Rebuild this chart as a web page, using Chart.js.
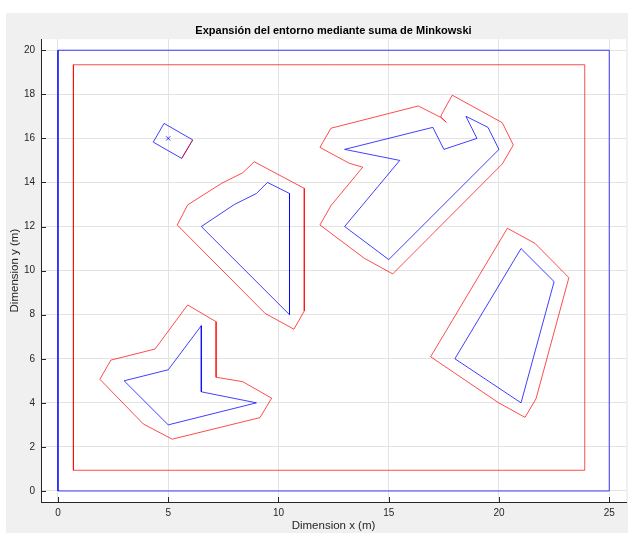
<!DOCTYPE html>
<html>
<head>
<meta charset="utf-8">
<script src="https://cdn.jsdelivr.net/npm/chart.js@4/dist/chart.umd.min.js"></script>
<style>
  html, body { margin: 0; padding: 0; background: #ffffff; }
  canvas { display: block; }
</style>
</head>
<body>
<canvas id="c" width="628" height="533"></canvas>
<script>
// Tick values
const xTicks = [0, 5, 10, 15, 20, 25];
const yTicks = [0, 2, 4, 6, 8, 10, 12, 14, 16, 18, 20];

// Workspace border and its configuration-space boundary
const borde = [[0, 0], [25, 0], [25, 20], [0, 20], [0, 0]];
const bordeExpandido = [[0.7, 0.94], [23.89, 0.94], [23.89, 19.34], [0.7, 19.34], [0.7, 0.94]];

// Robot footprint and its reference point
const robot = [[4.81, 16.68], [6.11, 15.93], [5.61, 15.09], [4.32, 15.83], [4.81, 16.68]];
const robotLado = [[6.11, 15.93], [5.61, 15.09]];
const robotRef = [[5, 16]];

// Obstacles (blue) and their Minkowski expansions (red)
const obs1 = [[3, 5], [5, 5.5], [6.5, 7.5], [6.5, 4.5], [9, 4], [5, 3], [3, 5]];
const obs1Exp = [[1.9, 5.07], [2.4, 5.94], [4.4, 6.44], [5.88, 8.44], [7.17, 7.68], [7.17, 5.16],
                 [8.38, 4.96], [9.69, 4.21], [9.16, 3.33], [5.18, 2.35], [3.87, 3.04], [1.9, 5.07]];

const obs2 = [[6.5, 12], [8, 13], [9, 13.5], [9.5, 14], [10.5, 13.5], [10.5, 8], [6.5, 12]];
const obs2Exp = [[5.41, 12.07], [5.88, 12.98], [7.42, 13.96], [8.38, 14.44], [8.9, 14.94],
                 [11.17, 13.73], [11.17, 8.17], [10.7, 7.34], [9.39, 8.06], [5.41, 12.07]];

const obs3 = [[13, 15.5], [17, 16.5], [17.5, 15.5], [19, 16], [18.5, 17], [19.5, 16.5],
              [20, 15.5], [15, 10.5], [13, 12], [15.5, 15], [13, 15.5]];
const obs3Exp = [[12.38, 16.46], [16.34, 17.47], [17.36, 16.95], [17.61, 16.73], [17.36, 16.97],
                 [17.4, 17.09], [17.88, 17.96], [20.15, 16.71], [20.65, 15.7], [20.15, 14.84],
                 [15.18, 9.85], [13.89, 10.56], [11.88, 12.07], [12.38, 12.95], [13.82, 14.69],
                 [13.21, 14.87], [11.88, 15.59], [12.38, 16.46]];

const obs4 = [[21, 11], [22.5, 9.5], [21, 4], [18, 6], [21, 11]];
const obs4Exp = [[20.38, 11.92], [21.63, 11.24], [23.17, 9.68], [21.68, 4.19], [21.18, 3.34],
                 [19.97, 4.01], [16.9, 6.09], [20.38, 11.92]];

const AZUL = 'rgba(0,0,255,0.75)';
const ROJO = 'rgba(255,0,0,0.7)';
const FONT = 'Liberation Sans, Arial, Helvetica, sans-serif';
const TEXTO = '#262626';

const pts = arr => arr.map(([x, y]) => ({ x, y }));
const linea = (label, arr, color, order) => ({
  label, data: pts(arr), borderColor: color, backgroundColor: color,
  borderWidth: 1, showLine: true, pointRadius: 0, pointHoverRadius: 0,
  fill: false, tension: 0, order
});

const datasets = [
  linea('borde', borde, AZUL, 2),
  linea('obs1', obs1, AZUL, 2),
  linea('obs2', obs2, AZUL, 2),
  linea('obs3', obs3, AZUL, 2),
  linea('obs4', obs4, AZUL, 2),
  linea('robot', robot, AZUL, 2),
  linea('bordeExpandido', bordeExpandido, ROJO, 1),
  linea('obs1Exp', obs1Exp, ROJO, 1),
  linea('obs2Exp', obs2Exp, ROJO, 1),
  linea('obs3Exp', obs3Exp, ROJO, 1),
  linea('obs4Exp', obs4Exp, ROJO, 1),
  linea('robotLado', robotLado, ROJO, 1),
  {
    label: 'ref', data: pts(robotRef), showLine: false, pointStyle: 'crossRot',
    pointRadius: 3, pointHoverRadius: 3, borderColor: AZUL, borderWidth: 1, order: 0
  }
];

// Figure background: grey panel with white axes area
const fondo = {
  id: 'fondo',
  beforeDraw(chart) {
    const { ctx, chartArea: a } = chart;
    ctx.save();
    ctx.fillStyle = '#ffffff';
    ctx.fillRect(0, 0, chart.width, chart.height);
    ctx.fillStyle = '#f0f0f0';
    ctx.fillRect(6, 13, chart.width - 6, chart.height - 13);
    ctx.fillStyle = '#ffffff';
    ctx.fillRect(a.left, a.top, a.right - a.left, a.bottom - a.top);
    ctx.restore();
  }
};

// Inward tick marks on the left and bottom axes
const marcas = {
  id: 'marcas',
  beforeDatasetsDraw(chart) {
    const { ctx, chartArea: a, scales } = chart;
    ctx.save();
    ctx.strokeStyle = TEXTO;
    ctx.lineWidth = 1;
    ctx.beginPath();
    scales.x.ticks.forEach(t => {
      const px = Math.round(scales.x.getPixelForValue(t.value)) + 0.5;
      ctx.moveTo(px, a.bottom);
      ctx.lineTo(px, a.bottom - 5);
    });
    scales.y.ticks.forEach(t => {
      const py = Math.round(scales.y.getPixelForValue(t.value)) + 0.5;
      ctx.moveTo(a.left, py);
      ctx.lineTo(a.left + 5, py);
    });
    ctx.stroke();
    ctx.restore();
  }
};

new Chart(document.getElementById('c'), {
  type: 'scatter',
  data: { datasets },
  plugins: [fondo, marcas],
  options: {
    responsive: false,
    devicePixelRatio: 1,
    animation: false,
    events: [],
    layout: { autoPadding: false, padding: { left: 0, right: 2, top: 0, bottom: 0 } },
    plugins: {
      legend: { display: false },
      tooltip: { enabled: false },
      title: {
        display: true,
        text: 'Expansión del entorno mediante suma de Minkowski',
        color: '#000000',
        font: { family: FONT, size: 11, weight: 'bold' },
        padding: { top: 24, bottom: 2 },
        fullSize: false
      }
    },
    scales: {
      x: {
        type: 'linear',
        position: 'bottom',
        min: -0.77,
        max: 25.76,
        afterBuildTicks: s => { s.ticks = xTicks.map(v => ({ value: v })); },
        afterFit: s => { s.height = 31; s.paddingLeft = 0; s.paddingRight = 0; },
        grid: { color: '#e3e3e3', lineWidth: 1, drawTicks: false },
        border: { display: true, color: TEXTO, width: 1 },
        ticks: {
          color: TEXTO, font: { family: FONT, size: 10 }, padding: 5,
          maxRotation: 0, autoSkip: false,
          callback: v => String(v)
        },
        title: {
          display: true, text: 'Dimension x (m)', color: TEXTO,
          font: { family: FONT, size: 11.5 }, padding: { top: 0, bottom: 0 }
        }
      },
      y: {
        type: 'linear',
        position: 'left',
        min: -0.5,
        max: 20.5,
        afterBuildTicks: s => { s.ticks = yTicks.map(v => ({ value: v })); },
        afterFit: s => { s.width = 41; s.paddingTop = 0; s.paddingBottom = 0; },
        grid: { color: '#e3e3e3', lineWidth: 1, drawTicks: false },
        border: { display: true, color: TEXTO, width: 1 },
        ticks: {
          color: TEXTO, font: { family: FONT, size: 10 }, padding: 6,
          autoSkip: false,
          callback: v => String(v)
        },
        title: {
          display: true, text: 'Dimension y (m)', color: TEXTO,
          font: { family: FONT, size: 11.5 }, padding: { top: 8, bottom: 0 }
        }
      }
    }
  }
});
</script>
</body>
</html>
